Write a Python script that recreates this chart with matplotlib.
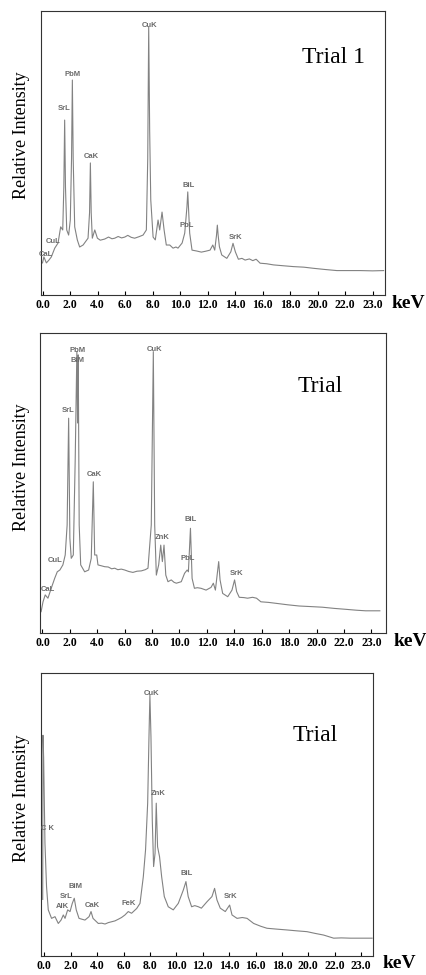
import numpy as np
import matplotlib
matplotlib.use("Agg")
import matplotlib.pyplot as plt

# x tick positions (keV) and the labels as printed on the scan
tick_pos = [0, 2, 4, 6, 8, 10, 12, 14, 16, 18, 20, 22, 24]
tick_labels = ["0.0", "2.0", "4.0", "6.0", "8.0", "10.0", "12.0", "14.0",
               "16.0", "18.0", "20.0", "22.0", "23.0"]

# spectra: (keV, relative intensity %)
trial1 = [(0.0, 11.3), (0.1, 13.4), (0.28, 11.3), (0.45, 12.2), (0.64, 13.4), (0.89, 16.5),
          (1.13, 18.3), (1.32, 24.0), (1.47, 22.9), (1.55, 38.0), (1.61, 61.6), (1.67, 38.0),
          (1.76, 22.9), (1.9, 21.1), (2.02, 26.4), (2.11, 48.0), (2.17, 75.7), (2.23, 48.0),
          (2.34, 24.0), (2.53, 19.4), (2.7, 16.9), (2.95, 17.6), (3.31, 20.0), (3.42, 29.0),
          (3.48, 46.5), (3.54, 29.0), (3.62, 20.0), (3.8, 22.9), (3.99, 20.0), (4.2, 19.3),
          (4.52, 19.7), (4.8, 20.4), (5.05, 19.8), (5.25, 20.0), (5.5, 20.6), (5.75, 20.1),
          (5.98, 20.4), (6.2, 21.0), (6.45, 20.3), (6.7, 20.0), (7.0, 20.5), (7.31, 21.1),
          (7.55, 22.9), (7.65, 48.0), (7.72, 94.4), (7.79, 58.0), (7.87, 33.5), (8.04, 20.4),
          (8.2, 19.4), (8.4, 26.4), (8.52, 22.9), (8.69, 29.2), (8.84, 22.9), (9.0, 17.6),
          (9.25, 17.6), (9.49, 16.5), (9.7, 16.9), (9.85, 16.5), (10.15, 18.3), (10.34, 21.8),
          (10.5, 31.0), (10.56, 36.3), (10.63, 29.0), (10.7, 21.8), (10.87, 15.8), (11.2, 15.5),
          (11.55, 15.1), (11.85, 15.4), (12.18, 15.8), (12.38, 17.6), (12.52, 15.8), (12.65, 21.0),
          (12.71, 24.6), (12.77, 21.0), (12.86, 17.0), (13.03, 14.1), (13.4, 12.9), (13.69, 15.2),
          (13.85, 18.2), (14.02, 15.2), (14.24, 12.6), (14.5, 12.9), (14.73, 12.3), (15.04, 12.7),
          (15.29, 12.1), (15.53, 12.6), (15.82, 11.2), (16.3, 11.0), (16.79, 10.6), (17.5, 10.3),
          (18.24, 10.0), (19.0, 9.8), (19.7, 9.4), (20.5, 9.0), (21.4, 8.6), (22.2, 8.6),
          (23.1, 8.6), (24.0, 8.5), (24.8, 8.6)]

trial2 = [(-0.1, 7.1), (0.04, 10.4), (0.2, 12.7), (0.4, 11.6), (0.64, 14.9), (0.89, 18.2),
          (1.08, 20.4), (1.27, 21.0), (1.49, 22.7), (1.66, 26.0), (1.8, 36.0), (1.91, 71.6),
          (2.0, 31.6), (2.1, 24.9), (2.25, 26.0), (2.39, 58.0), (2.51, 93.8), (2.56, 70.0),
          (2.61, 92.7), (2.68, 36.0), (2.79, 22.7), (3.08, 20.4), (3.37, 21.0), (3.56, 24.9),
          (3.71, 50.4), (3.81, 26.0), (3.96, 26.0), (4.05, 22.7), (4.3, 22.4), (4.54, 22.1),
          (4.8, 22.0), (5.05, 21.4), (5.27, 21.6), (5.5, 21.1), (5.75, 21.3), (6.0, 21.0),
          (6.3, 20.5), (6.6, 20.2), (6.9, 20.6), (7.21, 20.7), (7.5, 21.1), (7.7, 21.6),
          (7.94, 36.0), (8.09, 93.8), (8.19, 36.0), (8.31, 19.3), (8.48, 22.7), (8.63, 29.3),
          (8.75, 23.8), (8.87, 29.3), (9.0, 19.3), (9.16, 17.1), (9.4, 17.7), (9.6, 16.9),
          (9.77, 16.6), (10.13, 17.1), (10.37, 19.9), (10.56, 21.0), (10.65, 20.4), (10.8, 34.9),
          (10.92, 18.2), (11.09, 14.9), (11.3, 15.1), (11.57, 14.9), (11.94, 14.3), (12.3, 15.2),
          (12.47, 16.6), (12.62, 14.3), (12.86, 23.8), (12.96, 17.7), (13.15, 13.2), (13.52, 12.1),
          (13.83, 14.3), (14.02, 17.7), (14.17, 13.8), (14.36, 11.9), (14.7, 11.8), (14.97, 11.6),
          (15.33, 11.9), (15.62, 11.6), (15.94, 10.4), (16.5, 10.2), (17.03, 9.9), (17.9, 9.4),
          (18.73, 9.0), (19.6, 8.8), (20.42, 8.6), (21.3, 8.2), (22.12, 7.9), (22.9, 7.6),
          (23.58, 7.4), (24.62, 7.4)]

trial3 = [(-0.12, 20.0), (-0.1, 78.0), (-0.05, 70.0), (0.05, 39.8), (0.17, 24.5), (0.3, 16.3),
          (0.55, 13.3), (0.81, 13.9), (1.06, 11.5), (1.27, 12.7), (1.44, 14.5), (1.57, 13.3),
          (1.77, 16.3), (1.95, 15.7), (2.12, 18.6), (2.27, 20.4), (2.42, 16.3), (2.63, 13.3),
          (2.85, 13.0), (3.08, 12.7), (3.39, 13.9), (3.54, 15.7), (3.69, 13.3), (4.09, 11.5),
          (4.35, 11.6), (4.6, 11.3), (4.85, 11.8), (5.1, 12.1), (5.35, 12.4), (5.61, 13.0),
          (5.85, 13.6), (6.11, 14.5), (6.36, 15.7), (6.61, 15.1), (7.0, 16.8), (7.25, 18.6),
          (7.5, 28.0), (7.67, 37.5), (7.83, 54.0), (7.93, 77.5), (8.0, 92.2), (8.08, 77.5),
          (8.18, 48.0), (8.28, 31.6), (8.39, 36.3), (8.48, 54.0), (8.58, 38.6), (8.73, 35.1),
          (8.89, 28.0), (9.09, 21.0), (9.39, 17.4), (9.77, 16.3), (10.15, 18.6), (10.53, 23.3),
          (10.73, 26.3), (10.9, 21.0), (11.16, 17.4), (11.4, 17.8), (11.67, 17.4), (11.9, 16.9),
          (12.33, 19.2), (12.7, 21.0), (12.9, 23.9), (13.08, 19.8), (13.33, 16.9), (13.71, 15.7),
          (14.04, 18.0), (14.22, 14.5), (14.6, 13.3), (15.0, 13.6), (15.36, 13.3), (15.86, 11.5),
          (16.4, 10.5), (16.87, 9.8), (17.6, 9.5), (18.39, 9.2), (19.1, 8.9), (19.9, 8.6),
          (20.5, 8.0), (21.16, 7.4), (21.92, 6.3), (22.5, 6.4), (23.18, 6.3), (24.0, 6.3),
          (24.83, 6.3)]

# peak labels: (text, keV, intensity)
labels1 = [("CuK", 7.75, 95.0), ("PbM", 2.17, 77.5), ("SrL", 1.59, 65.8), ("CaK", 3.58, 48.6),
           ("BiL", 10.6, 38.4), ("PbL", 10.49, 24.6), ("SrK", 14.05, 20.4), ("CuL", 0.79, 18.7),
           ("CaL", 0.25, 14.4)]
labels2 = [("PbM", 2.57, 94.3), ("BiM", 2.57, 90.7), ("CuK", 8.18, 94.6), ("SrL", 1.88, 74.0),
           ("CaK", 3.82, 53.0), ("BiL", 10.8, 37.9), ("ZnK", 8.74, 31.9), ("PbL", 10.6, 24.7),
           ("SrK", 14.2, 19.7), ("CuL", 0.91, 24.3), ("CaL", 0.38, 14.6)]
labels3 = [("CuK", 8.16, 92.8), ("ZnK", 8.66, 57.5), ("C K", 0.28, 44.9), ("BiM", 2.4, 24.5),
           ("SrL", 1.67, 21.0), ("AlK", 1.34, 17.4), ("CaK", 3.66, 17.8), ("FeK", 6.39, 18.6),
           ("BiL", 10.76, 29.2), ("SrK", 14.14, 21.0)]

W, H = 427, 975
fig = plt.figure(figsize=(W / 100, H / 100), dpi=100)

panels = [
    # data, labels, title, axes box in px (left, top, right, bottom), xlim, title pos, ylabel y, keV pos
    (trial1, labels1, "Trial 1", (41, 11, 385, 295), (-0.11, 24.9), (0.76, 0.835), 135, (392, 304)),
    (trial2, labels2, "Trial", (40, 333, 386, 633), (-0.18, 25.07), (0.743, 0.82), 467, (394, 642)),
    (trial3, labels3, "Trial", (41, 673, 373, 956), (-0.25, 24.9), (0.759, 0.78), 798, (383, 963)),
]

for data, labs, title, box, xlim, tpos, ylab_y, kev_pos in panels:
    l, t, r, b = box
    ax = fig.add_axes([l / W, 1 - b / H, (r - l) / W, (b - t) / H])
    arr = np.array(data)
    ax.plot(arr[:, 0], arr[:, 1], color="#828282", lw=0.8)
    for txt, k, i in labs:
        ax.text(k, i, txt, ha="center", va="center", fontsize=5.5, fontweight="bold",
                color="#6a6a6a", family="Liberation Sans")
    ax.text(tpos[0], tpos[1], title, transform=ax.transAxes, fontsize=17,
            family="Liberation Serif", ha="left", va="center")
    ax.set_xlim(*xlim)
    ax.set_ylim(0, 100)
    ax.set_yticks([])
    ax.set_xticks(tick_pos)
    ax.set_xticklabels(tick_labels, fontsize=8.5, fontweight="bold", family="Liberation Serif")
    ax.tick_params(axis="x", direction="in", length=3, width=0.8, pad=3)
    for s in ax.spines.values():
        s.set_linewidth(0.8)
        s.set_color("#333333")
    fig.text(22 / W, 1 - ylab_y / H, "Relative Intensity", rotation=90, ha="center", va="center",
             fontsize=13, family="Liberation Serif")
    fig.text(kev_pos[0] / W, 1 - kev_pos[1] / H, "keV", ha="left", va="center",
             fontsize=14, fontweight="bold", family="Liberation Serif")

fig.savefig("out.png", dpi=100)
